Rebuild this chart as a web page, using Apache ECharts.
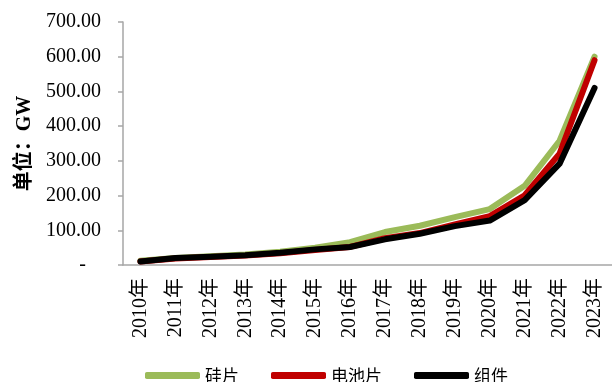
<!DOCTYPE html>
<html>
<head>
<meta charset="utf-8">
<script src="https://cdn.jsdelivr.net/npm/echarts@6/dist/echarts.min.js"></script>
<style>
  html, body { margin: 0; padding: 0; background: #fff; }
  #chart { width: 612px; height: 382px; }
</style>
</head>
<body>
<div id="chart"></div>
<script>
// Yearly capacity (GW) for each link of the PV chain
const years = ['2010年', '2011年', '2012年', '2013年', '2014年', '2015年', '2016年',
               '2017年', '2018年', '2019年', '2020年', '2021年', '2022年', '2023年'];
const wafer  = [12, 20, 25, 30, 38, 50, 66, 95, 113, 138, 161, 228, 358, 600];
const cell   = [10, 19, 23, 27, 34, 43, 52, 77, 92, 117, 141, 201, 321, 590];
const module = [10, 20, 24, 28, 35, 45, 52, 74, 90, 112, 128, 187, 292, 510];
const seriesNames = ['硅片', '电池片', '组件'];
const yTicks = [0, 100, 200, 300, 400, 500, 600, 700];

const serif = '"Liberation Serif", "Noto Sans CJK SC", serif';
const cjk = '"Noto Sans CJK SC", "Liberation Serif", serif';
const axisGray = '#a6a6a6';

const chart = echarts.init(document.getElementById('chart'), null, { renderer: 'canvas' });

function lineSeries(name, data, color) {
  return {
    name: name,
    type: 'line',
    data: data,
    symbol: 'none',
    smooth: false,
    lineStyle: { color: color, width: 6, cap: 'round', join: 'round' },
    itemStyle: { color: color },
    emphasis: { disabled: true }
  };
}

chart.setOption({
  animation: false,
  backgroundColor: '#ffffff',
  grid: { left: 123, top: 22, bottom: 117, width: 501, containLabel: false },
  legend: {
    data: seriesNames,
    left: 145,
    top: 367,
    padding: 0,
    icon: 'roundRect',
    itemWidth: 55,
    itemHeight: 7,
    itemGap: 32,
    textStyle: { fontFamily: cjk, fontSize: 17, lineHeight: 17, color: '#000', padding: [0, 0, 0, 0] }
  },
  xAxis: {
    type: 'category',
    data: years,
    boundaryGap: true,
    axisLine: { lineStyle: { color: axisGray, width: 1.5 } },
    axisTick: { show: false },
    axisLabel: {
      rotate: 90,
      margin: 13,
      interval: 0,
      fontFamily: serif,
      fontSize: 20,
      color: '#000'
    }
  },
  yAxis: {
    type: 'value',
    min: yTicks[0],
    max: yTicks[yTicks.length - 1],
    interval: 100,
    name: '单位：GW',
    nameLocation: 'middle',
    nameGap: 86,
    nameTextStyle: { fontFamily: serif, fontSize: 20, fontWeight: 'bold', color: '#000' },
    splitLine: { show: false },
    axisLine: { show: true, lineStyle: { color: axisGray, width: 1.5 } },
    axisTick: { show: true, inside: false, length: 5, lineStyle: { color: axisGray, width: 1.5 } },
    axisLabel: {
      margin: 22,
      fontFamily: serif,
      fontSize: 20,
      color: '#000',
      formatter: function (v) { return v === 0 ? '-   ' : v.toFixed(2); }
    }
  },
  series: [
    lineSeries(seriesNames[0], wafer, '#9BBB59'),
    lineSeries(seriesNames[1], cell, '#C00000'),
    lineSeries(seriesNames[2], module, '#000000')
  ]
});
</script>
</body>
</html>
